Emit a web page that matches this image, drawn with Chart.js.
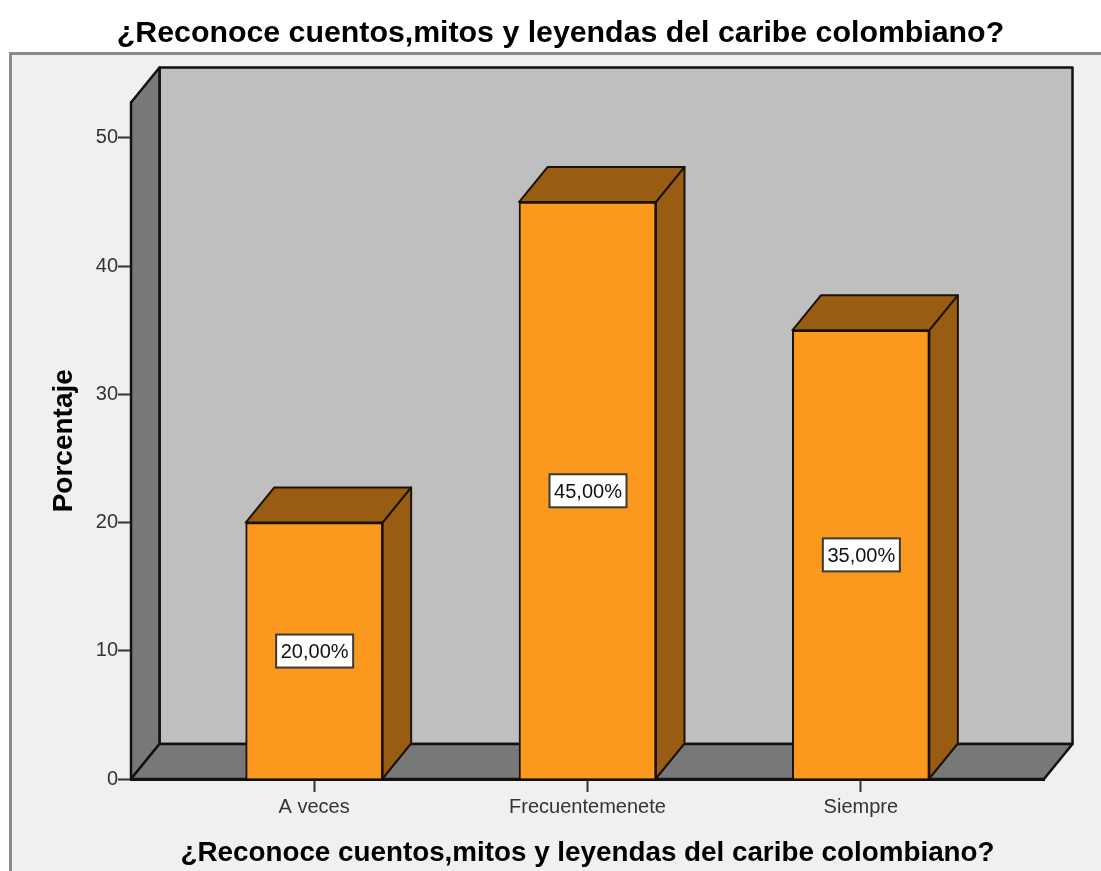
<!DOCTYPE html>
<html lang="es">
<head>
<meta charset="utf-8">
<title>¿Reconoce cuentos,mitos y leyendas del caribe colombiano?</title>
<script src="https://cdn.jsdelivr.net/npm/chart.js@4/dist/chart.umd.js"></script>
<style>
    body { margin: 0; background: #fff; }
    canvas { display: block; }
</style>
</head>
<body>
<canvas id="chart" width="1101" height="871"></canvas>
<script>
const chartTitle = '¿Reconoce cuentos,mitos y leyendas del caribe colombiano?';
const yTitle = 'Porcentaje';
const categories = ['A veces', 'Frecuentemenete', 'Siempre'];
const percentages = [20, 45, 35];
const percentLabels = ['20,00%', '45,00%', '35,00%'];

const depthX = 28.5;
const depthY = -35;
const fontName = '"Liberation Sans", Arial, sans-serif';

function fillPoly(ctx, points, fill, stroke, lineWidth) {
    ctx.beginPath();
    points.forEach((p, i) => i ? ctx.lineTo(p[0], p[1]) : ctx.moveTo(p[0], p[1]));
    ctx.closePath();
    ctx.fillStyle = fill;
    ctx.fill();
    ctx.strokeStyle = stroke;
    ctx.lineWidth = lineWidth;
    ctx.lineJoin = 'round';
    ctx.stroke();
}

// spss style panel and 3d walls, sized from the chart area
const backdrop = {
    id: 'backdrop',
    beforeDraw(chart) {
        const ctx = chart.ctx;
        const { left, right, top, bottom } = chart.chartArea;
        ctx.save();
        ctx.fillStyle = '#f0f0f0';
        ctx.fillRect(10.5, 53.5, chart.width, chart.height);
        ctx.strokeStyle = '#8a8a8a';
        ctx.lineWidth = 3;
        ctx.strokeRect(10.5, 53.5, chart.width, chart.height);

        const edge = '#111';
        fillPoly(ctx, [[left + depthX, top + depthY], [right + depthX, top + depthY], [right + depthX, bottom + depthY], [left + depthX, bottom + depthY]], '#bfbfbf', edge, 2.5);
        fillPoly(ctx, [[left, top], [left + depthX, top + depthY], [left + depthX, bottom + depthY], [left, bottom]], '#787878', edge, 2.5);
        fillPoly(ctx, [[left, bottom], [left + depthX, bottom + depthY], [right + depthX, bottom + depthY], [right, bottom]], '#787878', edge, 2.5);
        ctx.restore();
    }
};

const barSides = {
    id: 'barSides',
    beforeDatasetsDraw(chart) {
        const ctx = chart.ctx;
        ctx.save();
        chart.getDatasetMeta(0).data.forEach(bar => {
            const l = bar.x - bar.width / 2;
            const r = bar.x + bar.width / 2;
            fillPoly(ctx, [[l, bar.y], [l + depthX, bar.y + depthY], [r + depthX, bar.y + depthY], [r, bar.y]], '#985c12', '#1c1204', 2);
            fillPoly(ctx, [[r, bar.y], [r + depthX, bar.y + depthY], [r + depthX, bar.base + depthY], [r, bar.base]], '#985c12', '#1c1204', 2);
        });
        ctx.restore();
    }
};

const valueBoxes = {
    id: 'valueBoxes',
    afterDatasetsDraw(chart) {
        const ctx = chart.ctx;
        ctx.save();
        ctx.font = '20px ' + fontName;
        ctx.textAlign = 'center';
        ctx.textBaseline = 'middle';
        chart.getDatasetMeta(0).data.forEach((bar, i) => {
            const y = (bar.y + bar.base) / 2;
            ctx.fillStyle = '#fff';
            ctx.fillRect(bar.x - 38, y - 16, 77, 33);
            ctx.strokeStyle = '#3a3a3a';
            ctx.lineWidth = 2;
            ctx.strokeRect(bar.x - 38, y - 16, 77, 33);
            ctx.fillStyle = '#111';
            ctx.fillText(percentLabels[i], bar.x + 0.5, y + 2);
        });
        ctx.restore();
    }
};

new Chart(document.getElementById('chart'), {
    type: 'bar',
    data: {
        datasets: [{
            data: percentages.map((v, i) => ({ x: i, y: v })),
            backgroundColor: '#fb981e',
            borderColor: '#1c1204',
            borderWidth: 2,
            barThickness: 137,
            clip: false
        }]
    },
    plugins: [backdrop, barSides, valueBoxes],
    options: {
        responsive: false,
        animation: false,
        layout: { padding: { left: 20 }, autoPadding: false },
        plugins: {
            legend: { display: false },
            tooltip: { enabled: false },
            title: {
                display: true,
                text: chartTitle,
                color: '#000',
                font: { family: fontName, size: 30.3, weight: 'bold' },
                padding: { top: 15, bottom: 51.1 }
            }
        },
        scales: {
            x: {
                type: 'linear',
                offset: false,
                min: -0.67,
                max: 2.67,
                afterFit: s => { s.height = 92; },
                afterBuildTicks: s => { s.ticks = categories.map((c, i) => ({ value: i })); },
                grid: { offset: false, drawOnChartArea: false, tickLength: 13, tickColor: '#333', tickWidth: 2 },
                border: { color: '#111', width: 3 },
                ticks: {
                    callback: v => categories[v],
                    autoSkip: false,
                    maxRotation: 0,
                    padding: 3,
                    color: '#333',
                    font: { family: fontName, size: 20 }
                },
                title: {
                    display: true,
                    text: chartTitle,
                    color: '#000',
                    font: { family: fontName, size: 27.8, weight: 'bold' },
                    padding: { top: 0, bottom: 1.3 }
                }
            },
            y: {
                min: 0,
                max: 52.77,
                afterFit: s => { s.width = 111; },
                grid: { drawOnChartArea: false, tickLength: 13, tickColor: '#333', tickWidth: 2 },
                border: { color: '#111', width: 2 },
                ticks: {
                    stepSize: 10,
                    includeBounds: false,
                    padding: 0,
                    color: '#333',
                    font: { family: fontName, size: 20 }
                },
                title: {
                    display: true,
                    text: yTitle,
                    color: '#000',
                    font: { family: fontName, size: 28, weight: 'bold' },
                    padding: { top: 27, bottom: 0 }
                }
            },
            // empty axis only holds the gap right of the plot
            y2: {
                position: 'right',
                afterFit: s => { s.width = 57; },
                grid: { display: false },
                border: { display: false },
                ticks: { display: false }
            }
        }
    }
});
</script>
</body>
</html>
